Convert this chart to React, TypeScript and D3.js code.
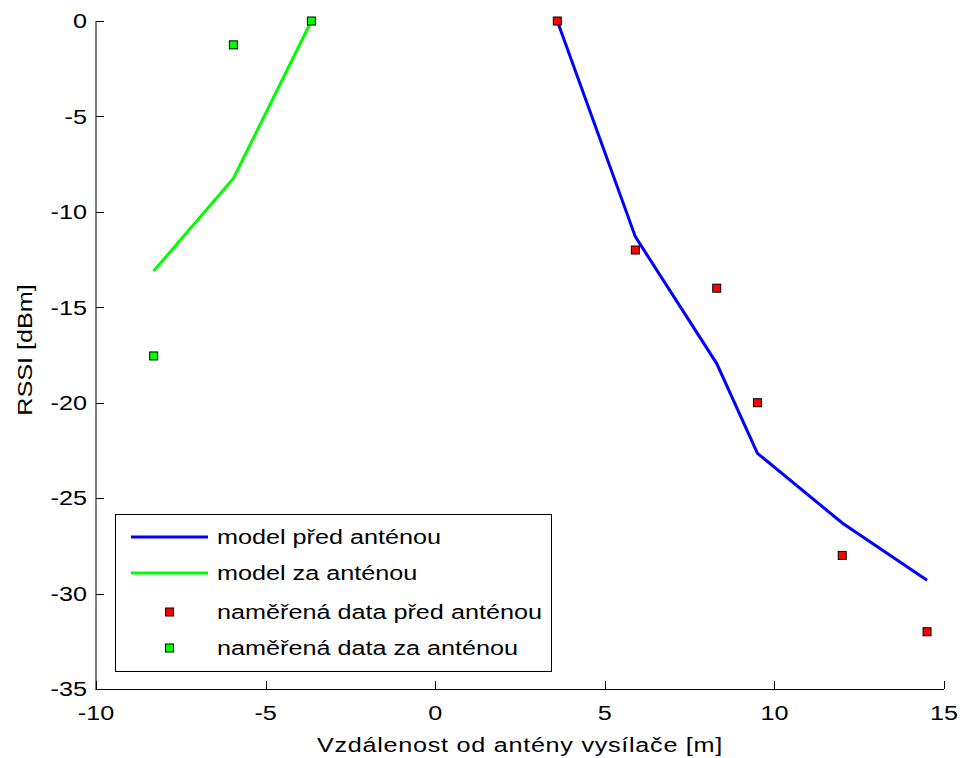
import React from "react";
import * as d3 from "d3";

const frontX = [3.6, 5.9, 8.3, 9.5, 12.0, 14.5];
const frontModel = [0, -11.3, -17.95, -22.65, -26.3, -29.3];
const frontMeasured = [0, -12, -14, -20, -28, -32];
const backX = [-3.65, -5.95, -8.3];
const backModel = [0, -8.25, -13.1];
const backMeasured = [0, -1.25, -17.55];
const xTicks = [-10, -5, 0, 5, 10, 15];
const yTicks = [0, -5, -10, -15, -20, -25, -30, -35];

const legendItems = [
  { label: "model před anténou", type: "line", color: "#0000ff" },
  { label: "model za anténou", type: "line", color: "#00ff00" },
  { label: "naměřená data před anténou", type: "marker", color: "#ff0000" },
  { label: "naměřená data za anténou", type: "marker", color: "#00ff00" },
];

const SX = 1.2;
const FS = 21;

function T(props: { x: number; y: number; anchor?: string; rotate?: boolean; dy?: string; ls?: number; children: React.ReactNode }) {
  const { x, y, anchor = "start", rotate = false, dy, ls = 0, children } = props;
  const tr = rotate
    ? `translate(${x},${y}) rotate(-90) scale(${SX},1)`
    : `translate(${x},${y}) scale(${SX},1)`;
  return (
    <text transform={tr} textAnchor={anchor} dy={dy} fontSize={FS} letterSpacing={ls} fill="#000">{children}</text>
  );
}

export default function App() {
  const W = 962, H = 758;
  const x = d3.scaleLinear().domain([-10, 15]).range([96, 944]);
  const y = d3.scaleLinear().domain([-35, 0]).range([689, 21]);
  const line = d3.line<[number, number]>().x(d => x(d[0])).y(d => y(d[1]));
  const font = "Liberation Sans, Arial, sans-serif";
  const frontLine = frontX.map((v, i) => [v, frontModel[i]] as [number, number]);
  const backLine = backX.map((v, i) => [v, backModel[i]] as [number, number]);
  const ms = 8;
  const marker = (cx: number, cy: number, fill: string, key: string) => (
    <rect key={key} x={cx - ms / 2} y={cy - ms / 2} width={ms} height={ms} fill={fill} stroke="#000" strokeWidth={1} />
  );
  const lg = { x: 115, y: 514, w: 436, h: 157 };
  const rowY = [537, 573, 612, 648];
  return (
    <svg width={W} height={H} style={{ position: "absolute", left: 0, top: 0, background: "#fff" }} fontFamily={font}>
      <rect x={0} y={0} width={W} height={H} fill="#fff" />
      {/* axes */}
      <line x1={96} y1={21} x2={96} y2={689.5} stroke="#000" strokeWidth={1} />
      <line x1={95.5} y1={689.5} x2={944} y2={689.5} stroke="#000" strokeWidth={1} />
      {yTicks.map(t => (
        <g key={"y" + t}>
          <line x1={96} x2={104} y1={Math.round(y(t)) + 0.5} y2={Math.round(y(t)) + 0.5} stroke="#000" />
          <T x={87} y={y(t)} dy="0.35em" anchor="end">{t}</T>
        </g>
      ))}
      {xTicks.map(t => (
        <g key={"x" + t}>
          <line x1={Math.round(x(t)) + 0.5} x2={Math.round(x(t)) + 0.5} y1={689} y2={681} stroke="#000" />
          <T x={x(t)} y={720} anchor="middle">{t}</T>
        </g>
      ))}
      <T x={520} y={752} anchor="middle" ls={0.6}>Vzdálenost od antény vysílače [m]</T>
      <T x={32} y={350} anchor="middle" rotate>RSSI [dBm]</T>
      {/* model lines */}
      <path d={line(frontLine) || ""} fill="none" stroke="#0000ff" strokeWidth={3} />
      <path d={line(backLine) || ""} fill="none" stroke="#00ff00" strokeWidth={3} />
      {/* measured */}
      {frontX.map((v, i) => marker(x(v), y(frontMeasured[i]), "#ff0000", "f" + i))}
      {backX.map((v, i) => marker(x(v), y(backMeasured[i]), "#00ff00", "b" + i))}
      {/* legend */}
      <rect x={lg.x + 0.5} y={lg.y + 0.5} width={lg.w} height={lg.h} fill="#fff" stroke="#000" strokeWidth={1} />
      {legendItems.map((it, i) => (
        <g key={"l" + i}>
          {it.type === "line" ? (
            <line x1={131} x2={208} y1={rowY[i]} y2={rowY[i]} stroke={it.color} strokeWidth={3} />
          ) : (
            marker(169.5, rowY[i], it.color, "lm" + i)
          )}
          <T x={217} y={rowY[i]} dy="0.35em">{it.label}</T>
        </g>
      ))}
    </svg>
  );
}
